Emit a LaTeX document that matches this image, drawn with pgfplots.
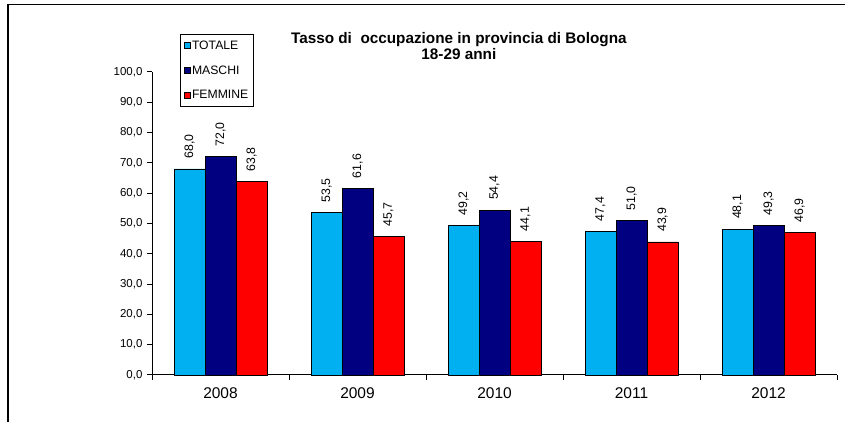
\documentclass[border=0pt]{standalone}
\usepackage{fontspec}
\setmainfont{Liberation Sans}
\usepackage{pgfplots}
\pgfplotsset{compat=1.18}
\definecolor{ctot}{RGB}{0,176,240}
\definecolor{cmas}{RGB}{0,0,128}
\definecolor{cfem}{RGB}{255,0,0}
\begin{document}
\begin{tikzpicture}
\useasboundingbox (0pt,0pt) rectangle (845pt,422pt);
\draw[line width=1.4pt] (8pt,0pt) -- (8pt,417.5pt) -- (845pt,417.5pt);
\begin{axis}[
  at={(152pt,47pt)}, anchor=south west,
  scale only axis, width=685pt, height=303pt,
  xmin=-0.5, xmax=4.5, ymin=0, ymax=100,
  axis x line=bottom, axis y line=left,
  axis line style={-, line width=1pt},
  ybar=0pt, bar width=31pt,
  xtick={0,1,2,3,4},
  xticklabels={2008,2009,2010,2011,2012},
  major x tick style={draw=none},
  minor xtick={-0.5,0.5,1.5,2.5,3.5,4.5},
  minor tick length=5pt,
  minor x tick style={line width=1pt, black},
  ytick={0,10,...,100},
  major tick length=5pt,
  tick align=outside,
  y tick style={line width=1pt, black},
  yticklabel style={font=\fontsize{11.5}{12}\selectfont, xshift=-1pt,
    /pgf/number format/fixed, /pgf/number format/fixed zerofill, /pgf/number format/precision=1,
    /pgf/number format/use comma, /pgf/number format/assume math mode=true},
  xticklabel style={font=\fontsize{15.5}{16}\selectfont, yshift=-4pt},
  nodes near coords,
  nodes near coords style={rotate=90, anchor=west, font=\fontsize{12.3}{13}\selectfont, xshift=6.5pt,
    /pgf/number format/fixed, /pgf/number format/fixed zerofill, /pgf/number format/precision=1,
    /pgf/number format/use comma, /pgf/number format/assume math mode=true},
  every axis plot/.append style={draw=black, line width=0.9pt},
  title={\textbf{Tasso di\ \ occupazione in provincia di Bologna}\\\textbf{18-29 anni}},
  title style={at={(axis description cs:0.448,1.0)}, anchor=south, align=center, font=\fontsize{15.3}{16}\selectfont, yshift=3pt},
  legend style={at={(axis description cs:0.0409,1.125)}, anchor=north west, draw=black, line width=0.8pt,
    font=\fontsize{12.2}{12.5}\selectfont, row sep=13pt, inner xsep=4pt, inner ysep=5pt,
    nodes={inner xsep=1pt, inner ysep=1pt}, legend cell align=left},
  legend image code/.code={\draw[#1, line width=0.6pt] (0pt,-3pt) rectangle (6pt,3pt);},
  clip=false,
]
\addplot[fill=ctot] coordinates {(0,68.0) (1,53.5) (2,49.2) (3,47.4) (4,48.1)};
\addplot[fill=cmas] coordinates {(0,72.0) (1,61.6) (2,54.4) (3,51.0) (4,49.3)};
\addplot[fill=cfem] coordinates {(0,63.8) (1,45.7) (2,44.1) (3,43.9) (4,46.9)};
\legend{TOTALE,MASCHI,FEMMINE}
\end{axis}
\end{tikzpicture}
\end{document}
